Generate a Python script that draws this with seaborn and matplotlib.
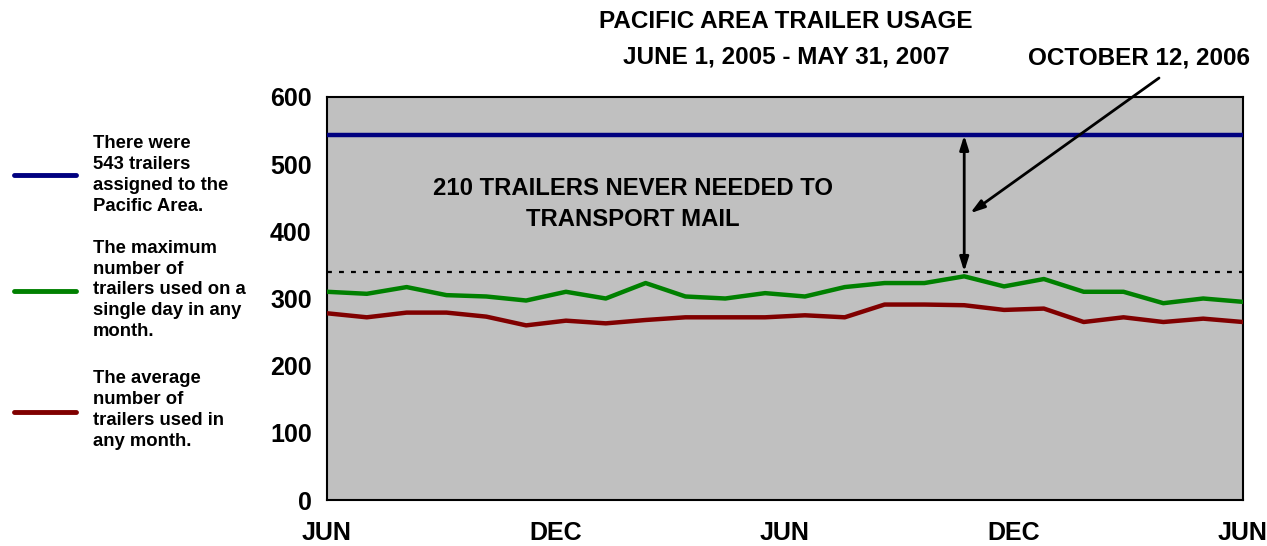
import matplotlib
matplotlib.use("Agg")
import matplotlib.pyplot as plt
from matplotlib.lines import Line2D
import seaborn as sns
import pandas as pd
import numpy as np

# ---- data ----
months = ["Jun 2005", "Jul 2005", "Aug 2005", "Sep 2005", "Oct 2005", "Nov 2005",
          "Dec 2005", "Jan 2006", "Feb 2006", "Mar 2006", "Apr 2006", "May 2006",
          "Jun 2006", "Jul 2006", "Aug 2006", "Sep 2006", "Oct 2006", "Nov 2006",
          "Dec 2006", "Jan 2007", "Feb 2007", "Mar 2007", "Apr 2007", "May 2007"]
max_used = [310, 307, 317, 305, 303, 297, 310, 300, 323, 303, 300, 308,
            303, 317, 323, 323, 333, 318, 329, 310, 310, 293, 300, 295]
avg_used = [278, 272, 279, 279, 273, 260, 267, 263, 268, 272, 272, 272,
            275, 272, 291, 291, 290, 283, 285, 265, 272, 265, 270, 265]
assigned = 543
peak_needed = 340
never_needed = 210
peak_month = "Oct 2006"
x_tick_labels = ["JUN", "", "DEC", "", "JUN", "", "DEC", "", "JUN"]
y_ticks = [0, 100, 200, 300, 400, 500, 600]

legend_texts = [
    "There were\n543 trailers\nassigned to the\nPacific Area.",
    "The maximum\nnumber of\ntrailers used on a\nsingle day in any\nmonth.",
    "The average\nnumber of\ntrailers used in\nany month.",
]

BLUE = "#000080"
GREEN = "#008000"
RED = "#800000"
GRAY = "#C0C0C0"

sns.set_theme(style="white")
plt.rcParams["font.family"] = ["Liberation Sans", "DejaVu Sans"]
plt.rcParams["font.weight"] = "bold"
plt.rcParams["text.color"] = "black"
plt.rcParams["xtick.color"] = "black"
plt.rcParams["ytick.color"] = "black"
plt.rcParams["xtick.labelcolor"] = "black"
plt.rcParams["ytick.labelcolor"] = "black"

W, H = 1267, 546
fig = plt.figure(figsize=(W / 100, H / 100), dpi=100)
ax = fig.add_axes([327 / W, 1 - 500 / H, (1243 - 327) / W, (500 - 97) / H])

df = pd.DataFrame({
    "idx": np.arange(len(months)),
    "month": months,
    "Maximum": max_used,
    "Average": avg_used,
})
long = df.melt(id_vars=["idx", "month"], value_vars=["Maximum", "Average"],
               var_name="series", value_name="trailers")

ax.set_facecolor(GRAY)
ax.axhline(assigned, color=BLUE, lw=3.2, zorder=3)
ax.axhline(peak_needed, color="black", lw=1.6, ls=(0, (2.2, 3.2)), zorder=3)
sns.lineplot(data=long, x="idx", y="trailers", hue="series",
             palette={"Maximum": GREEN, "Average": RED}, lw=3.2,
             legend=False, ax=ax, zorder=4)

n = len(months)
ax.set_xlim(0, n - 1)
ax.set_ylim(0, 600)
ax.set_xticks(np.linspace(0, n - 1, len(x_tick_labels)))
ax.set_xticklabels(x_tick_labels)
ax.set_yticks(y_ticks)
ax.set_xlabel("")
ax.set_ylabel("")
for s in ax.spines.values():
    s.set_visible(True)
    s.set_color("black")
    s.set_linewidth(1.5)
ax.tick_params(axis="both", which="both", direction="out", length=7, width=1.5,
               color="black", labelcolor="black", labelsize=18)
ax.tick_params(axis="x", pad=8)
ax.tick_params(axis="y", pad=4)
for lab in ax.get_xticklabels() + ax.get_yticklabels():
    lab.set_fontweight("bold")
ax.grid(False)

# double-headed arrow at peak day
px = months.index(peak_month)
ax.annotate("", xy=(px, assigned), xytext=(px, peak_needed),
            arrowprops=dict(arrowstyle="<|-|>,head_length=0.7,head_width=0.22",
                            color="black", lw=2, shrinkA=0, shrinkB=0), zorder=5)
ax.annotate("", xy=(px + 0.15, 427), xytext=((1159 - 327) / 916, (500 - 78) / 403),
            textcoords="axes fraction",
            arrowprops=dict(arrowstyle="-|>,head_length=0.7,head_width=0.22",
                            color="black", lw=2, shrinkA=0, shrinkB=0),
            annotation_clip=False, zorder=5)

ax.text(7.68, 441, f"{never_needed} TRAILERS NEVER NEEDED TO\nTRANSPORT MAIL",
        ha="center", va="center", fontsize=17.2, fontweight="bold",
        linespacing=1.42, zorder=6, color="black")

fig.text(786 / W, 1 - 21 / H, "PACIFIC AREA TRAILER USAGE", ha="center",
         va="center", fontsize=17.5, fontweight="bold", color="black")
fig.text(786 / W, 1 - 57 / H, "JUNE 1, 2005 - MAY 31, 2007", ha="center",
         va="center", fontsize=17.5, fontweight="bold", color="black")
fig.text(1139 / W, 1 - 58 / H, "OCTOBER 12, 2006", ha="center",
         va="center", fontsize=17.5, fontweight="bold", color="black")

# custom legend on the left
leg_y = [175, 291, 412]
leg_text_y = [175, 290, 410]
for color, ly, ty, txt in zip([BLUE, GREEN, RED], leg_y, leg_text_y, legend_texts):
    fig.add_artist(Line2D([14 / W, 76 / W], [1 - ly / H, 1 - ly / H],
                          color=color, lw=3.5, solid_capstyle="round"))
    fig.text(93 / W, 1 - ty / H, txt, ha="left", va="center", fontsize=13.3,
             fontweight="bold", linespacing=1.3, color="black")

fig.savefig("out.png", dpi=100)
